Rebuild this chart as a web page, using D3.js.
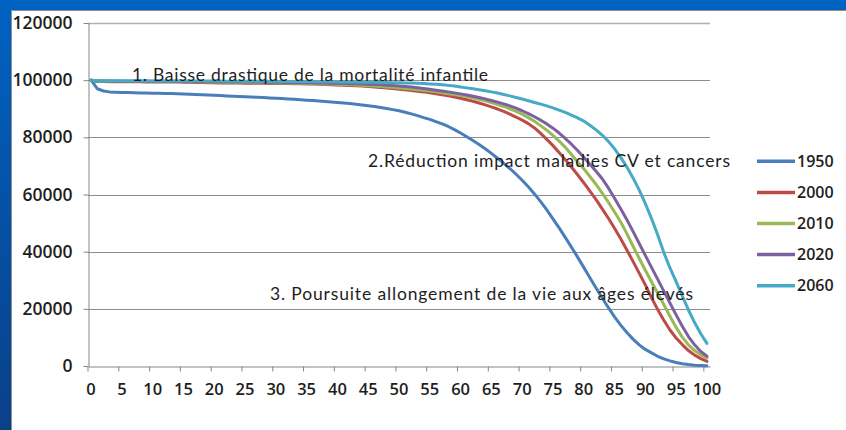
<!DOCTYPE html>
<html>
<head>
<meta charset="utf-8">
<script src="https://cdn.jsdelivr.net/npm/d3@7"></script>
<style>
    body { margin: 0; background: #fff; }
    svg { display: block; }
</style>
</head>
<body>
<div id="chart"></div>
<script>
// survivants (sur 100000 naissances) par age
const ages = d3.range(0, 101)
const years = ["1950", "2000", "2010", "2020", "2060"]

const s1950 = [100000, 97000, 96200, 95900, 95800, 95700, 95650, 95600, 95550, 95500,
    95450, 95400, 95350, 95300, 95250, 95200, 95100, 95000, 94900, 94800,
    94700, 94600, 94500, 94400, 94300, 94200, 94100, 94000, 93900, 93800,
    93700, 93600, 93450, 93300, 93150, 93000, 92850, 92700, 92550, 92400,
    92200, 92000, 91800, 91550, 91300, 91050, 90750, 90450, 90100, 89700,
    89300, 88800, 88200, 87600, 86900, 86300, 85500, 84700, 83800, 82700,
    81500, 80200, 78900, 77500, 76000, 74400, 72700, 70900, 69100, 67100,
    65000, 62700, 60200, 57500, 54600, 51500, 48300, 45000, 41600, 38100,
    34500, 30900, 27300, 23800, 20400, 17200, 14300, 11700, 9400, 7400,
    5800, 4600, 3400, 2500, 1800, 1200, 800, 500, 300, 200,
    100]

const s2000 = [100000, 99550, 99500, 99470, 99450, 99440, 99430, 99420, 99410, 99400,
    99390, 99380, 99370, 99350, 99330, 99300, 99260, 99220, 99170, 99120,
    99070, 99040, 99010, 98990, 98970, 98950, 98930, 98910, 98890, 98870,
    98850, 98820, 98790, 98750, 98710, 98670, 98620, 98560, 98500, 98430,
    98350, 98260, 98160, 98050, 97920, 97780, 97620, 97450, 97270, 97070,
    96850, 96650, 96400, 96150, 95900, 95600, 95250, 94900, 94500, 94100,
    93650, 93150, 92600, 92000, 91350, 90650, 89900, 89050, 88100, 87100,
    86000, 84800, 83300, 81400, 79300, 77100, 74700, 72200, 69600, 66900,
    64100, 61200, 58200, 55000, 51700, 48200, 44500, 40600, 36600, 32500,
    28400, 23900, 19800, 16000, 12600, 9800, 7500, 5400, 3800, 2600,
    1600]

const s2010 = [100000, 99650, 99620, 99600, 99590, 99580, 99570, 99565, 99560, 99555,
    99550, 99545, 99540, 99530, 99520, 99500, 99480, 99450, 99410, 99370,
    99330, 99300, 99270, 99240, 99210, 99180, 99150, 99120, 99090, 99060,
    99030, 99000, 98970, 98930, 98890, 98850, 98800, 98750, 98690, 98630,
    98560, 98480, 98390, 98290, 98180, 98060, 97930, 97790, 97640, 97480,
    97300, 97110, 96900, 96680, 96440, 96180, 95900, 95600, 95280, 95000,
    94650, 94250, 93800, 93300, 92750, 92150, 91500, 90800, 90000, 89100,
    88100, 86900, 85600, 84100, 82500, 80700, 78700, 76500, 74000, 71400,
    69000, 66300, 63500, 60500, 57300, 53900, 50400, 46300, 41900, 37700,
    33500, 29500, 25500, 21500, 17400, 13500, 10100, 7400, 5400, 3900,
    2800]

const s2020 = [100000, 99700, 99680, 99670, 99660, 99650, 99645, 99640, 99635, 99630,
    99625, 99620, 99615, 99610, 99600, 99590, 99570, 99550, 99520, 99490,
    99460, 99440, 99420, 99400, 99380, 99360, 99340, 99320, 99300, 99280,
    99260, 99240, 99210, 99180, 99150, 99120, 99080, 99040, 99000, 98950,
    98900, 98840, 98780, 98710, 98640, 98560, 98470, 98370, 98260, 98140,
    98000, 97800, 97600, 97350, 97100, 96800, 96500, 96200, 95900, 95550,
    95200, 94800, 94400, 93950, 93450, 92900, 92300, 91700, 91000, 90200,
    89300, 88300, 87200, 86000, 84700, 83200, 81500, 79600, 77600, 75400,
    73000, 70600, 68100, 65500, 62300, 58700, 55000, 51200, 47100, 42900,
    38700, 34500, 30400, 26200, 22000, 17900, 13900, 10300, 7400, 5100,
    3400]

const s2060 = [100000, 99800, 99790, 99785, 99780, 99775, 99770, 99765, 99760, 99755,
    99750, 99745, 99740, 99735, 99730, 99725, 99720, 99710, 99700, 99690,
    99680, 99670, 99660, 99650, 99640, 99630, 99620, 99610, 99600, 99590,
    99580, 99570, 99555, 99540, 99525, 99510, 99490, 99470, 99450, 99430,
    99410, 99390, 99370, 99340, 99310, 99280, 99250, 99210, 99170, 99130,
    99090, 99050, 98980, 98900, 98800, 98680, 98540, 98380, 98180, 97950,
    97600, 97300, 97000, 96650, 96300, 95900, 95500, 95000, 94500, 93950,
    93400, 92800, 92200, 91600, 91000, 90300, 89500, 88700, 87800, 86800,
    85700, 84200, 82600, 80800, 78600, 76000, 73000, 69600, 65800, 61600,
    56800, 51600, 45900, 39700, 34300, 29500, 24500, 19600, 15200, 11300,
    7900]

const series = [s1950, s2000, s2010, s2020, s2060]
const yTicks = [0, 20000, 40000, 60000, 80000, 100000, 120000]
const xLabels = ages.filter(a => a % 5 == 0)
const notes = ["1. Baisse drastique de la mortalité infantile",
    "2.Réduction impact maladies CV et cancers",
    "3. Poursuite allongement de la vie aux âges élevés"]

const colors = ["#4a7ebb", "#be4b48", "#98b954", "#7d60a0", "#46aac5"]
const axisColor = "#868686"
const textColor = "#1e1e1e"

let svg = d3.select("#chart")
    .append("svg")
    .attr("width", 846)
    .attr("height", 430)

// slide background
let grad = svg.append("defs").append("linearGradient")
    .attr("id", "bg").attr("x1", 0).attr("y1", 0).attr("x2", 0).attr("y2", 1)
grad.append("stop").attr("offset", "0%").attr("stop-color", "#0062c2")
grad.append("stop").attr("offset", "100%").attr("stop-color", "#0a4088")
svg.append("rect").attr("width", 846).attr("height", 430).attr("fill", "url(#bg)")
svg.append("rect")
    .attr("x", 11.5).attr("y", 10.5)
    .attr("width", 845).attr("height", 430)
    .attr("fill", "#fff")
    .attr("stroke", "#8f8f8f")

let x = d3.scaleBand().domain(ages).range([88, 710])
let y = d3.scaleLinear().domain([0, 120000]).range([366, 23])
let half = x.bandwidth() / 2

// gridlines
svg.append("g").selectAll("line")
    .data(yTicks.filter(v => v > 0))
    .enter().append("line")
    .attr("x1", 88).attr("x2", 710)
    .attr("y1", d => Math.round(y(d)) + 0.5)
    .attr("y2", d => Math.round(y(d)) + 0.5)
    .attr("stroke", d => d == 120000 ? "#b0b0b0" : "#8c8c8c")
    .attr("stroke-width", d => d == 120000 ? 1.5 : 1)

// axes
let xAxis = svg.append("g")
    .attr("transform", "translate(0,366.5)")
    .call(d3.axisBottom(x).tickValues(xLabels).tickSize(5).tickSizeOuter(0).tickPadding(12))
xAxis.selectAll(".tick line").attr("transform", "translate(" + (-half) + ",0)")

let yAxis = svg.append("g")
    .attr("transform", "translate(88.5,0)")
    .call(d3.axisLeft(y).tickValues(yTicks).tickFormat(d3.format("d"))
        .tickSize(5).tickSizeOuter(0).tickPadding(11))

xAxis.selectAll("path,line").attr("stroke", axisColor)
yAxis.selectAll("path,line").attr("stroke", axisColor)
xAxis.selectAll("text")
    .attr("fill", textColor)
    .style("font-family", "'Open Sans'").style("font-weight", 600).style("font-size", "16.5px")
yAxis.selectAll("text")
    .attr("fill", textColor)
    .style("font-family", "'Open Sans'").style("font-weight", 600).style("font-size", "17.5px")

// curves
let line = d3.line()
    .x((d, i) => x(ages[i]) + half)
    .y(d => y(d))

svg.append("g").selectAll("path")
    .data(series)
    .enter().append("path")
    .attr("d", d => line(d))
    .attr("fill", "none")
    .attr("stroke", (d, i) => colors[i])
    .attr("stroke-width", 3)
    .attr("stroke-linejoin", "round")
    .attr("stroke-linecap", "round")

// legend
let legend = svg.append("g").selectAll("g")
    .data(years)
    .enter().append("g")
    .attr("transform", (d, i) => "translate(0," + (161.3 + i * 31.1) + ")")
legend.append("line")
    .attr("x1", 757).attr("x2", 795)
    .attr("stroke", (d, i) => colors[i])
    .attr("stroke-width", 3.5)
legend.append("text")
    .attr("x", 797).attr("dy", "0.36em")
    .attr("fill", textColor)
    .style("font-family", "'Open Sans'").style("font-weight", 600).style("font-size", "16px")
    .text(d => d)

// annotations
let notePos = [[132, 80.5, 356], [368, 166.5, 362], [270, 299.5, 423]]
svg.append("g").selectAll("text")
    .data(notes)
    .enter().append("text")
    .attr("x", (d, i) => notePos[i][0])
    .attr("y", (d, i) => notePos[i][1])
    .attr("textLength", (d, i) => notePos[i][2])
    .attr("lengthAdjust", "spacing")
    .attr("fill", textColor)
    .style("font-family", "Lato")
    .style("font-size", "17.5px")
    .text(d => d)
</script>
</body>
</html>
